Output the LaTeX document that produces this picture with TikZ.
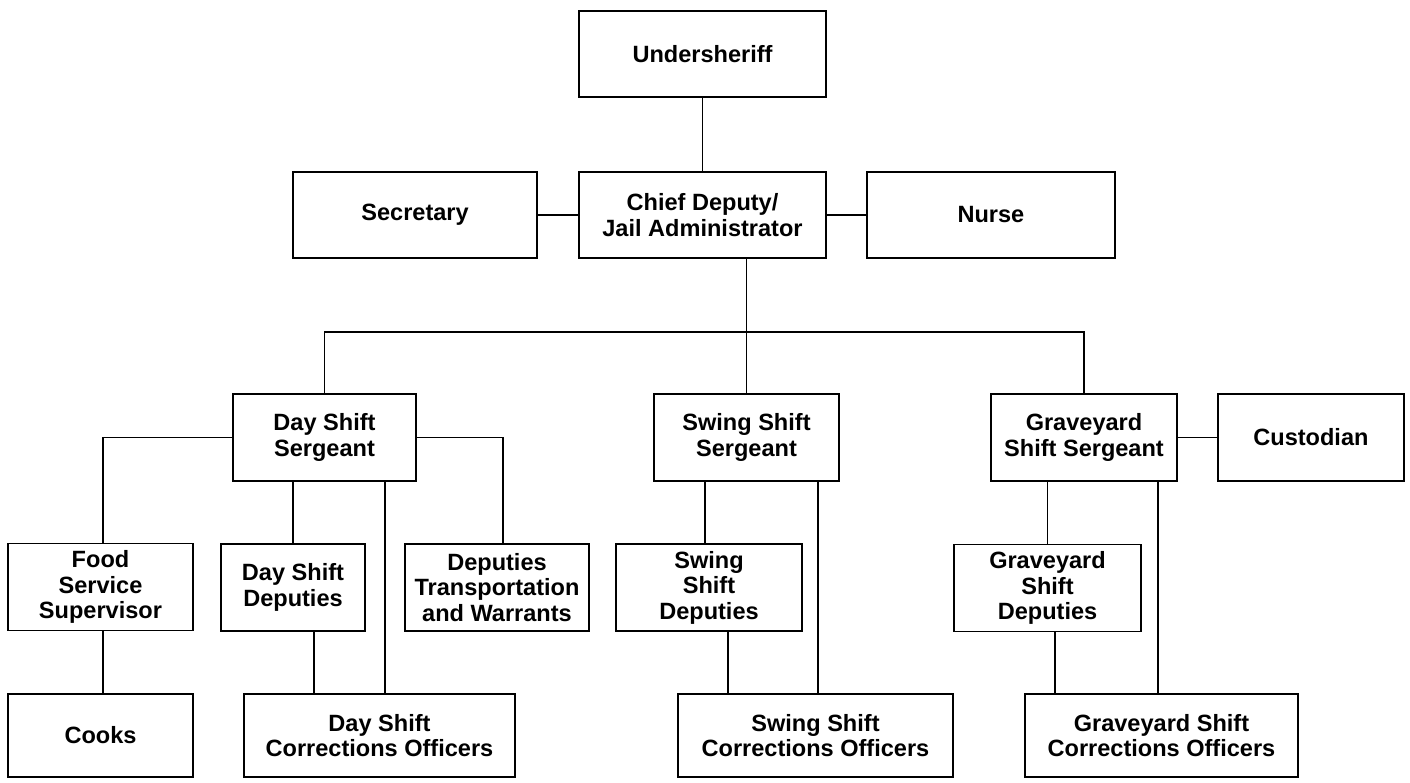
\documentclass[tikz,border=0pt]{standalone}
\usepackage{fontspec}
\setmainfont{Liberation Sans}
\usetikzlibrary{positioning}

\begin{document}
\begin{tikzpicture}[
    font=\bfseries\fontsize{13.4}{14.5}\selectfont,
    box/.style={draw, line width=1.1pt, align=center, inner sep=2pt,
                minimum height=1.74cm},
    top/.style={box, minimum width=4.94cm, minimum height=1.72cm},
    low/.style={box, minimum height=1.66cm},
    link/.style={line width=1.1pt},
]
    \useasboundingbox (0,0) rectangle (28.2,-15.64);

    %==================== TOP: undersheriff + chief deputy ====================
    \node[top] (under) at (14.05,-1.08) {Undersheriff};
    \node[top] (chief) at (14.05,-4.30) {Chief Deputy/\\Jail Administrator};
    \node[top, minimum width=4.88cm, left=0.8cm of chief] (sec) {Secretary};
    \node[top, minimum width=4.96cm, right=0.78cm of chief] (nurse) {Nurse};

    \draw[link] (under) -- (chief);
    \draw[link] (sec) -- (chief);
    \draw[link] (chief) -- (nurse);

    %==================== SERGEANTS ====================
    \coordinate (bus) at (0,-6.64);
    \node[box, minimum width=3.66cm] (daysgt) at (6.49,-8.75) {Day Shift\\Sergeant};
    \node[box, minimum width=3.70cm] (swingsgt) at (14.93,-8.75) {Swing Shift\\Sergeant};
    \node[box, minimum width=3.72cm] (gravesgt) at (21.68,-8.75) {Graveyard\\Shift Sergeant};
    \node[box, minimum width=3.72cm, right=0.78cm of gravesgt] (cust) {Custodian};

    \draw[link] (chief.south -| swingsgt.north) -- (swingsgt.north);
    \draw[link] (daysgt.north) -- (daysgt.north |- bus) -- (gravesgt.north |- bus)
        -- (gravesgt.north);
    \draw[link] (gravesgt) -- (cust);

    %==================== DAY SHIFT ====================
    \node[box, minimum width=3.70cm] (food) at (2.01,-11.74) {Food\\Service\\Supervisor};
    \node[box, minimum width=2.88cm] (daydep) at (5.86,-11.75) {Day Shift\\Deputies};
    \node[box, minimum width=3.68cm] (transp) at (9.94,-11.75)
        {Deputies\\Transportation\\and Warrants};
    \node[low, minimum width=3.70cm] (cooks) at (2.01,-14.71) {Cooks};
    \node[low, minimum width=5.42cm] (daycorr) at (7.59,-14.71)
        {Day Shift\\Corrections Officers};

    \draw[link] (daysgt.west) -| ([xshift=0.05cm]food.north);
    \draw[link] (daysgt.east) -| ([xshift=0.12cm]transp.north);
    \draw[link] (daysgt.south -| daydep.north) -- (daydep.north);
    \draw[link] ([xshift=1.21cm]daysgt.south) -- ([xshift=1.21cm]daysgt.south |- daycorr.north);
    \draw[link] ([xshift=0.42cm]daydep.south) -- ([xshift=0.42cm]daydep.south |- daycorr.north);
    \draw[link] ([xshift=0.05cm]food.south) -- ([xshift=0.05cm]food.south |- cooks.north);

    %==================== SWING SHIFT ====================
    \node[box, minimum width=3.72cm] (swingdep) at (14.18,-11.75) {Swing\\Shift\\Deputies};
    \node[low, minimum width=5.50cm] (swingcorr) at (16.31,-14.71)
        {Swing Shift\\Corrections Officers};

    \draw[link] ([xshift=-0.08cm]swingdep.north |- swingsgt.south) -- ([xshift=-0.08cm]swingdep.north);
    \draw[link] ([xshift=1.43cm]swingsgt.south) -- ([xshift=1.43cm]swingsgt.south |- swingcorr.north);
    \draw[link] ([xshift=0.38cm]swingdep.south) -- ([xshift=0.38cm]swingdep.south |- swingcorr.north);

    %==================== GRAVEYARD SHIFT ====================
    \node[box, minimum width=3.74cm] (gravedep) at (20.95,-11.76) {Graveyard\\Shift\\Deputies};
    \node[low, minimum width=5.46cm] (gravecorr) at (23.23,-14.71)
        {Graveyard Shift\\Corrections Officers};

    \draw[link] (gravesgt.south -| gravedep.north) -- (gravedep.north);
    \draw[link] ([xshift=1.48cm]gravesgt.south) -- ([xshift=1.48cm]gravesgt.south |- gravecorr.north);
    \draw[link] ([xshift=0.15cm]gravedep.south) -- ([xshift=0.15cm]gravedep.south |- gravecorr.north);

\end{tikzpicture}
\end{document}
